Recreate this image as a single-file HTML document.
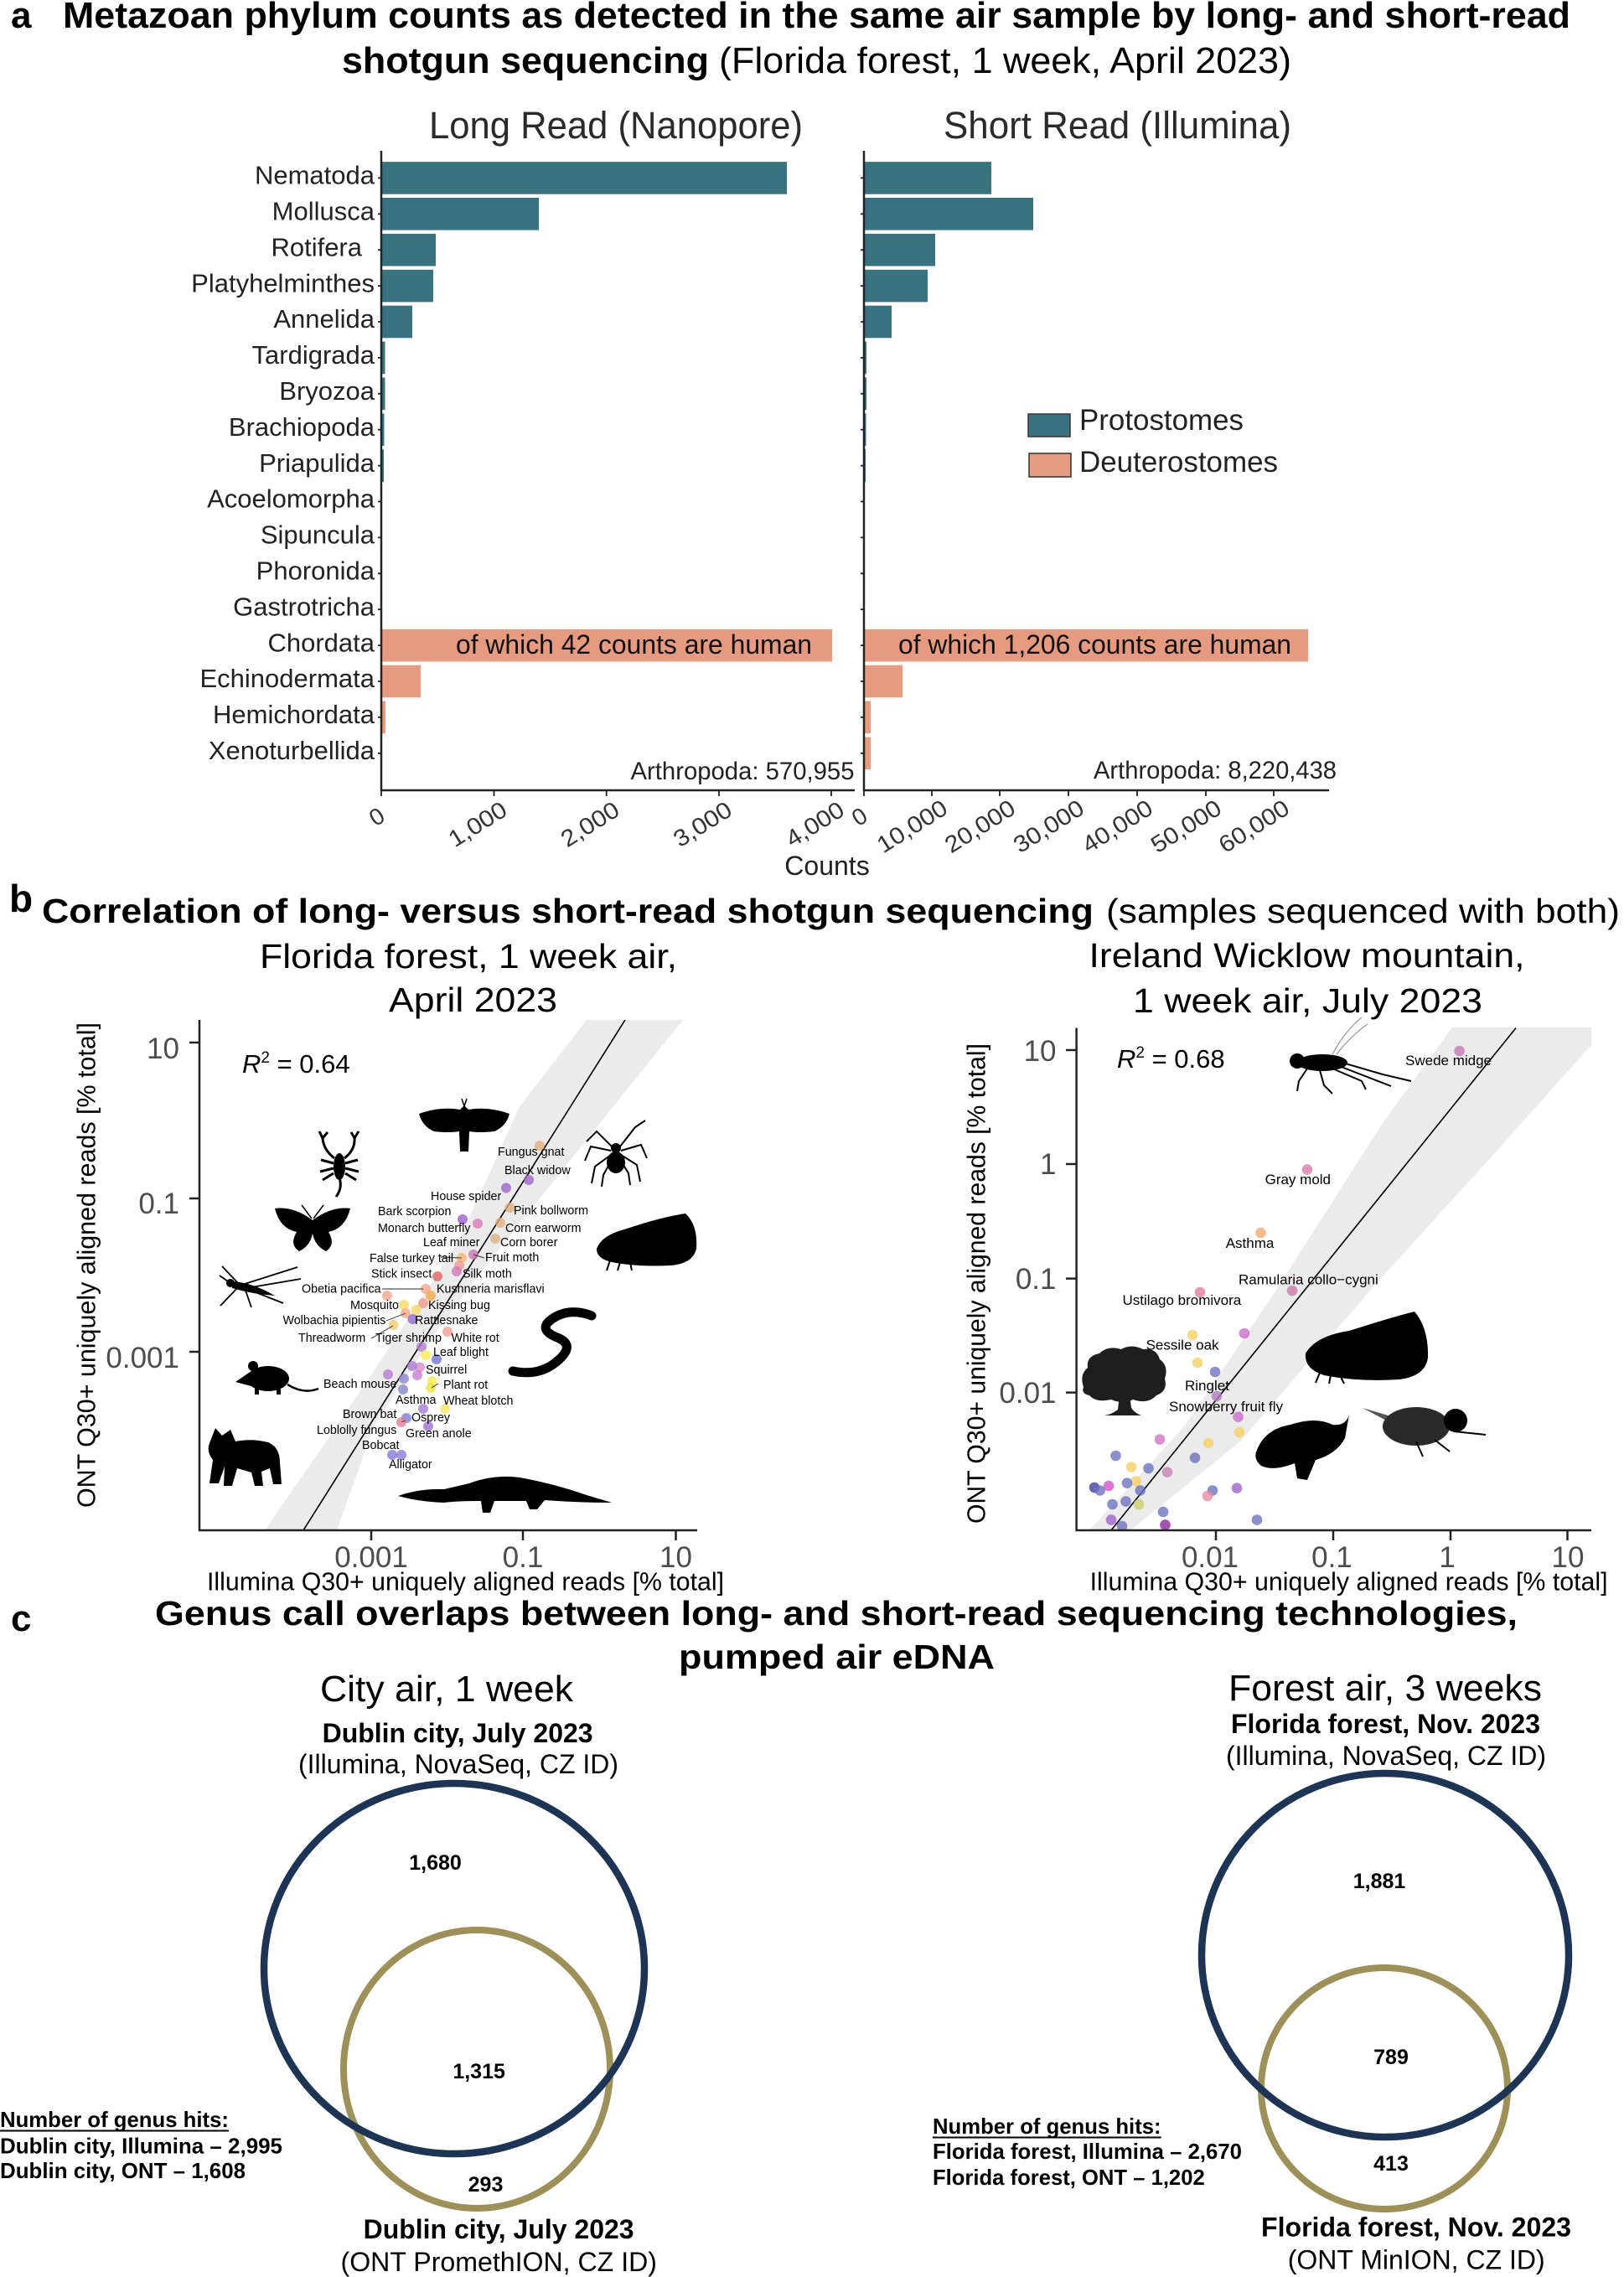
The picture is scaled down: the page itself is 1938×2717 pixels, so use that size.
<!DOCTYPE html>
<html><head><meta charset="utf-8"><style>
html,body{margin:0;padding:0;background:#fff;}
svg{display:block;font-family:"Liberation Sans",Arial,sans-serif;}
</style></head><body>
<svg width="1938" height="2717" viewBox="0 0 1938 2717" xmlns="http://www.w3.org/2000/svg">
<rect width="1938" height="2717" fill="#fff"/>
<defs>
<clipPath id="cl"><rect x="238" y="1217" width="594" height="609"/></clipPath>
<clipPath id="cr"><rect x="1285" y="1226" width="614" height="600"/></clipPath>
</defs>

<!-- ============ PANEL A ============ -->
<text x="13" y="33" font-weight="bold" font-size="44">a</text>
<text x="75" y="33" font-weight="bold" font-size="44" textLength="1799" lengthAdjust="spacingAndGlyphs">Metazoan phylum counts as detected in the same air sample by long- and short-read</text>
<text x="408" y="87" font-weight="bold" font-size="44" textLength="438" lengthAdjust="spacingAndGlyphs">shotgun sequencing</text>
<text x="858" y="87" font-size="44" textLength="683" lengthAdjust="spacingAndGlyphs">(Florida forest, 1 week, April 2023)</text>

<text x="512" y="165" font-size="45" fill="#2a2a2a" textLength="446" lengthAdjust="spacingAndGlyphs">Long Read (Nanopore)</text>
<text x="1126" y="165" font-size="45" fill="#2a2a2a" textLength="415" lengthAdjust="spacingAndGlyphs">Short Read (Illumina)</text>

<g font-size="31" fill="#222" text-anchor="end">
<text x="447" y="219.6">Nematoda</text>
<text x="447" y="262.5">Mollusca</text>
<text x="432" y="305.4">Rotifera</text>
<text x="447" y="348.3">Platyhelminthes</text>
<text x="447" y="391.2">Annelida</text>
<text x="447" y="434.1">Tardigrada</text>
<text x="447" y="477">Bryozoa</text>
<text x="447" y="519.9">Brachiopoda</text>
<text x="447" y="562.8">Priapulida</text>
<text x="447" y="605.7">Acoelomorpha</text>
<text x="447" y="648.6">Sipuncula</text>
<text x="447" y="691.5">Phoronida</text>
<text x="447" y="734.4">Gastrotricha</text>
<text x="447" y="777.3">Chordata</text>
<text x="447" y="820.2">Echinodermata</text>
<text x="447" y="863.1">Hemichordata</text>
<text x="447" y="906">Xenoturbellida</text>
</g>

<!-- left bars -->
<g fill="#38737f">
<rect x="455" y="193.1" width="484" height="38.6"/>
<rect x="455" y="236" width="188" height="38.6"/>
<rect x="455" y="278.9" width="65" height="38.6"/>
<rect x="455" y="321.8" width="62" height="38.6"/>
<rect x="455" y="364.7" width="37" height="38.6"/>
<rect x="455" y="407.6" width="4.5" height="38.6"/>
<rect x="455" y="450.5" width="4.5" height="38.6"/>
<rect x="455" y="493.4" width="3.5" height="38.6"/>
<rect x="455" y="536.3" width="3" height="38.6"/>
</g>
<g fill="#e69a80">
<rect x="455" y="750.8" width="538" height="38.6"/>
<rect x="455" y="793.7" width="47" height="38.6"/>
<rect x="455" y="836.6" width="5" height="38.6"/>
</g>
<!-- right bars -->
<g fill="#38737f">
<rect x="1031" y="193.1" width="152" height="38.6"/>
<rect x="1031" y="236" width="202" height="38.6"/>
<rect x="1031" y="278.9" width="85" height="38.6"/>
<rect x="1031" y="321.8" width="76" height="38.6"/>
<rect x="1031" y="364.7" width="33" height="38.6"/>
<rect x="1031" y="407.6" width="3" height="38.6"/>
<rect x="1031" y="450.5" width="3" height="38.6"/>
<rect x="1031" y="493.4" width="2.5" height="38.6"/>
<rect x="1031" y="536.3" width="2" height="38.6"/>
</g>
<g fill="#e69a80">
<rect x="1031" y="750.8" width="530" height="38.6"/>
<rect x="1031" y="793.7" width="46" height="38.6"/>
<rect x="1031" y="836.6" width="8" height="38.6"/>
<rect x="1031" y="879.5" width="8" height="38.6"/>
</g>

<text x="544" y="780" font-size="32" fill="#111" textLength="425" lengthAdjust="spacingAndGlyphs">of which 42 counts are human</text>
<text x="1072" y="780" font-size="32" fill="#111" textLength="469" lengthAdjust="spacingAndGlyphs">of which 1,206 counts are human</text>

<text x="752.5" y="930" font-size="29.4" fill="#222" textLength="267" lengthAdjust="spacingAndGlyphs">Arthropoda: 570,955</text>
<text x="1305" y="929" font-size="29.4" fill="#222" textLength="290" lengthAdjust="spacingAndGlyphs">Arthropoda: 8,220,438</text>

<!-- axes panel a -->
<g stroke="#222" stroke-width="2.5" fill="none">
<line x1="455" y1="180" x2="455" y2="944"/>
<line x1="454" y1="943" x2="1020" y2="943"/>
<line x1="1031" y1="180" x2="1031" y2="944"/>
<line x1="1030" y1="943" x2="1586" y2="943"/>
</g>
<g stroke="#222" stroke-width="1.8">
<path d="M451,212.4h4M451,255.3h4M451,298.2h4M451,341.1h4M451,384h4M451,426.9h4M451,469.8h4M451,512.7h4M451,555.6h4M451,598.5h4M451,641.4h4M451,684.3h4M451,727.2h4M451,770.1h4M451,813h4M451,855.9h4M451,898.8h4"/>
<path d="M1027,212.4h4M1027,255.3h4M1027,298.2h4M1027,341.1h4M1027,384h4M1027,426.9h4M1027,469.8h4M1027,512.7h4M1027,555.6h4M1027,598.5h4M1027,641.4h4M1027,684.3h4M1027,727.2h4M1027,770.1h4M1027,813h4M1027,855.9h4M1027,898.8h4"/>
<path d="M455,943v7M589.5,943v7M723.7,943v7M858,943v7M992,943v7"/>
<path d="M1031,943v7M1112,943v7M1193,943v7M1275,943v7M1357,943v7M1439,943v7M1520,943v7"/>
</g>
<g font-size="28" fill="#333">
<text transform="translate(458.5,980.3) rotate(-32)" x="-12.2">0</text>
<text transform="translate(593,980.3) rotate(-32)" x="-59.3" textLength="76" lengthAdjust="spacingAndGlyphs">1,000</text>
<text transform="translate(727.2,980.3) rotate(-32)" x="-59.3" textLength="76" lengthAdjust="spacingAndGlyphs">2,000</text>
<text transform="translate(861.5,980.3) rotate(-32)" x="-59.3" textLength="76" lengthAdjust="spacingAndGlyphs">3,000</text>
<text transform="translate(995.5,980.3) rotate(-32)" x="-59.3" textLength="76" lengthAdjust="spacingAndGlyphs">4,000</text>
<text transform="translate(1034.5,980.3) rotate(-32)" x="-12.2">0</text>
<text transform="translate(1115.5,980.3) rotate(-32)" x="-72.5" textLength="93" lengthAdjust="spacingAndGlyphs">10,000</text>
<text transform="translate(1196.5,980.3) rotate(-32)" x="-72.5" textLength="93" lengthAdjust="spacingAndGlyphs">20,000</text>
<text transform="translate(1278.5,980.3) rotate(-32)" x="-72.5" textLength="93" lengthAdjust="spacingAndGlyphs">30,000</text>
<text transform="translate(1360.5,980.3) rotate(-32)" x="-72.5" textLength="93" lengthAdjust="spacingAndGlyphs">40,000</text>
<text transform="translate(1442.5,980.3) rotate(-32)" x="-72.5" textLength="93" lengthAdjust="spacingAndGlyphs">50,000</text>
<text transform="translate(1523.5,980.3) rotate(-32)" x="-72.5" textLength="93" lengthAdjust="spacingAndGlyphs">60,000</text>
</g>
<text x="987" y="1044" font-size="32" fill="#222" text-anchor="middle">Counts</text>

<!-- legend -->
<rect x="1227" y="494" width="50" height="27" fill="#38737f" stroke="#333" stroke-width="1.5"/>
<rect x="1228" y="541" width="50" height="28" fill="#e69a80" stroke="#333" stroke-width="1.5"/>
<text x="1288" y="513" font-size="35" fill="#222" textLength="196" lengthAdjust="spacingAndGlyphs">Protostomes</text>
<text x="1288" y="563" font-size="35" fill="#222" textLength="237" lengthAdjust="spacingAndGlyphs">Deuterostomes</text>

<!-- ============ PANEL B ============ -->
<text x="11" y="1088" font-weight="bold" font-size="46">b</text>
<text x="50" y="1101" font-weight="bold" font-size="41" textLength="1255" lengthAdjust="spacingAndGlyphs">Correlation of long- versus short-read shotgun sequencing</text>
<text x="1320" y="1101" font-size="41" textLength="613" lengthAdjust="spacingAndGlyphs">(samples sequenced with both)</text>

<text x="310" y="1155" font-size="41" textLength="498" lengthAdjust="spacingAndGlyphs">Florida forest, 1 week air,</text>
<text x="464" y="1207" font-size="41" textLength="201" lengthAdjust="spacingAndGlyphs">April 2023</text>
<text x="1299.5" y="1154" font-size="41" textLength="520" lengthAdjust="spacingAndGlyphs">Ireland Wicklow mountain,</text>
<text x="1352" y="1208" font-size="41" textLength="417" lengthAdjust="spacingAndGlyphs">1 week air, July 2023</text>

<!-- LEFT SCATTER -->
<g clip-path="url(#cl)">
<path d="M700,1217 L620,1320 L548,1480 L470,1600 L403,1700 L316,1826 L402,1826 L447,1700 L520,1590 L588,1500 L700,1360 L815,1217 Z" fill="#ebebeb"/>
<line x1="362" y1="1826" x2="746" y2="1217" stroke="#000" stroke-width="1.6"/>
</g>

<!-- left silhouettes -->
<g fill="#000">
<path d="M554,1320 L551,1311 M554,1320 L557,1311" stroke="#000" stroke-width="1.5" fill="none"/>
<path d="M500,1329 Q525,1320 549,1324 L554,1319 L559,1324 Q583,1320 608,1329 Q604,1344 590,1350 Q572,1352 560,1350 L559,1374 L549,1374 L548,1350 Q536,1352 518,1350 Q504,1344 500,1329 Z"/>
<ellipse cx="405" cy="1392" rx="7" ry="16"/>
<path d="M399,1382 Q386,1372 385,1358 M411,1382 Q424,1372 423,1358 M405,1405 Q409,1418 401,1428 M398,1388 L383,1384 M398,1394 L382,1398 M398,1400 L385,1408 M412,1388 L427,1384 M412,1394 L428,1398 M412,1400 L425,1408" stroke="#000" stroke-width="3" fill="none"/>
<path d="M381,1350 L385,1358 L391,1351 M419,1351 L423,1358 L428,1350" stroke="#000" stroke-width="3" fill="none"/>
<ellipse cx="735" cy="1387" rx="11" ry="13"/>
<circle cx="735" cy="1370" r="6"/>
<path d="M730,1368 L712,1350 L700,1362 M729,1373 L705,1368 L698,1385 M729,1378 L710,1392 L706,1412 M731,1382 L720,1402 L718,1416 M740,1368 L758,1345 L770,1337 M741,1373 L765,1366 L772,1382 M741,1378 L760,1390 L764,1410 M739,1382 L750,1400 L752,1414" stroke="#000" stroke-width="2" fill="none"/>
<path d="M373,1456 Q350,1439 328,1442 Q334,1466 354,1470 Q345,1485 357,1493 Q370,1487 373,1472 Q376,1487 389,1493 Q401,1485 392,1470 Q412,1466 418,1442 Q396,1439 373,1456 Z"/>
<path d="M372,1454 L360,1438 M374,1454 L386,1438" stroke="#000" stroke-width="1.5" fill="none"/>
<path d="M712,1490 Q718,1474 745,1467 Q790,1452 818,1448 Q833,1462 831,1490 Q827,1508 800,1510 Q760,1512 730,1506 Q712,1502 712,1490 Z"/>
<path d="M728,1504 L724,1516 M740,1506 L737,1516 M752,1507 L754,1516" stroke="#000" stroke-width="2" fill="none"/>
<path d="M277,1529 Q300,1530 328,1546 Q300,1544 277,1537 Z"/>
<circle cx="275" cy="1531" r="5"/>
<path d="M262,1522 L272,1529 M285,1535 L263,1558 M292,1537 L300,1560 M300,1540 L338,1555 M292,1532 L355,1512 M300,1536 L359,1526 M284,1531 L265,1511" stroke="#000" stroke-width="1.8" fill="none"/>
<path d="M612,1636 Q640,1642 660,1628 Q690,1606 665,1596 Q640,1586 660,1573 Q680,1560 706,1570" stroke="#000" stroke-width="11" fill="none" stroke-linecap="round"/>
<ellipse cx="320" cy="1645" rx="25" ry="15"/>
<path d="M300,1636 L281,1649 L300,1654 Z"/>
<circle cx="302" cy="1630" r="6"/>
<path d="M343,1652 Q362,1664 380,1657" stroke="#000" stroke-width="2.5" fill="none"/>
<rect x="304" y="1655" width="5" height="9"/><rect x="330" y="1655" width="5" height="9"/>
<path d="M250,1722 L257,1704 L265,1713 L275,1706 L281,1720 Q300,1716 320,1721 Q334,1727 334,1745 L336,1771 L326,1771 L322,1752 L312,1756 L314,1773 L304,1773 L300,1757 L283,1752 L277,1773 L267,1773 L268,1750 L261,1770 L250,1770 L254,1742 Q246,1732 250,1722 Z"/>
<path d="M475,1785 Q500,1776 530,1777 L560,1770 Q590,1759 620,1763 Q660,1770 700,1784 L730,1793 Q690,1793 650,1790 L641,1801 L632,1801 L628,1791 L590,1791 L585,1805 L576,1805 L574,1791 Q545,1791 530,1793 Q500,1792 475,1785 Z"/>
</g>

<!-- left points -->
<g fill-opacity="0.78">
<circle cx="644" cy="1367" r="6" fill="#e6ad78"/>
<circle cx="631" cy="1408" r="6" fill="#9b63c8"/>
<circle cx="604" cy="1417.5" r="6" fill="#9b63c8"/>
<circle cx="608.5" cy="1441" r="6" fill="#e0ad7a"/>
<circle cx="552" cy="1455" r="6" fill="#9b59d0"/>
<circle cx="597" cy="1459" r="6" fill="#e0ad7a"/>
<circle cx="570" cy="1460" r="6" fill="#d77ab9"/>
<circle cx="591" cy="1478" r="6" fill="#dcb084"/>
<circle cx="551" cy="1501" r="6" fill="#f3b36b"/>
<circle cx="565" cy="1497" r="6" fill="#c776b0"/>
<circle cx="548" cy="1510" r="6" fill="#f09a8a"/>
<circle cx="545" cy="1517" r="6" fill="#cc77b8"/>
<circle cx="522" cy="1523" r="6" fill="#e0605a"/>
<circle cx="508" cy="1538" r="6" fill="#f2a28a"/>
<circle cx="514" cy="1546" r="6" fill="#f0a840"/>
<circle cx="462" cy="1546" r="6" fill="#f2a28a"/>
<circle cx="482" cy="1557" r="6" fill="#f7d861"/>
<circle cx="505" cy="1555" r="6" fill="#f0988a"/>
<circle cx="496.5" cy="1563" r="6" fill="#f7d861"/>
<circle cx="484" cy="1567" r="6" fill="#f5a88a"/>
<circle cx="492.5" cy="1574" r="6" fill="#8e6ad0"/>
<circle cx="469.5" cy="1581" r="6" fill="#f5c96a"/>
<circle cx="534" cy="1589" r="6" fill="#f0a08e"/>
<circle cx="503" cy="1607" r="6" fill="#b07bd0"/>
<circle cx="521" cy="1622" r="6" fill="#6c72d0"/>
<circle cx="508" cy="1617" r="6" fill="#f7ea50"/>
<circle cx="501" cy="1631.5" r="6" fill="#d48acb"/>
<circle cx="492" cy="1630" r="6" fill="#a87ad0"/>
<circle cx="498" cy="1641" r="6" fill="#c57bd0"/>
<circle cx="482" cy="1645" r="6" fill="#8a80d0"/>
<circle cx="463" cy="1640" r="6" fill="#b87ad0"/>
<circle cx="481" cy="1658" r="6" fill="#7d80c8"/>
<circle cx="515.5" cy="1648" r="6" fill="#f7ea50"/>
<circle cx="514" cy="1656" r="6" fill="#f0e040"/>
<circle cx="531" cy="1681" r="6" fill="#f5e860"/>
<circle cx="505" cy="1681" r="6" fill="#a279d6"/>
<circle cx="485" cy="1692" r="6" fill="#7a7cd0"/>
<circle cx="479" cy="1697" r="6" fill="#e27b90"/>
<circle cx="511" cy="1701.7" r="6" fill="#9b6bd0"/>
<circle cx="468" cy="1736" r="6" fill="#7a7ad8"/>
<circle cx="479" cy="1736" r="6" fill="#8a7ad8"/>
</g>
<g stroke="#555" stroke-width="1.2" fill="none">
<path d="M456,1538 L505,1538 M443,1597 L469,1582 M461,1576 L484,1567 M484,1695 L479,1697 M523,1651 L515,1656 M526,1500 L551,1501 M578,1501 L565,1497"/>
</g>
<g font-size="14.3" fill="#000">
<text x="594" y="1379">Fungus gnat</text>
<text x="602" y="1401">Black widow</text>
<text x="514" y="1432">House spider</text>
<text x="613" y="1449">Pink bollworm</text>
<text x="451" y="1450">Bark scorpion</text>
<text x="603" y="1470">Corn earworm</text>
<text x="451" y="1470">Monarch butterfly</text>
<text x="597" y="1487">Corn borer</text>
<text x="505" y="1487">Leaf miner</text>
<text x="579" y="1505">Fruit moth</text>
<text x="441" y="1506">False turkey tail</text>
<text x="552" y="1524.5">Silk moth</text>
<text x="443" y="1524.5">Stick insect</text>
<text x="360" y="1542.6">Obetia pacifica</text>
<text x="521" y="1542.6">Kushneria marisflavi</text>
<text x="418" y="1562">Mosquito</text>
<text x="511" y="1562">Kissing bug</text>
<text x="337.5" y="1580">Wolbachia pipientis</text>
<text x="495" y="1580">Rattlesnake</text>
<text x="356" y="1601">Threadworm</text>
<text x="448" y="1601">Tiger shrimp</text>
<text x="538.5" y="1601">White rot</text>
<text x="517" y="1618">Leaf blight</text>
<text x="508" y="1639">Squirrel</text>
<text x="386" y="1656">Beach mouse</text>
<text x="529" y="1657">Plant rot</text>
<text x="472" y="1675">Asthma</text>
<text x="529" y="1676">Wheat blotch</text>
<text x="409" y="1692">Brown bat</text>
<text x="491" y="1696">Osprey</text>
<text x="378" y="1711">Loblolly fungus</text>
<text x="484" y="1715">Green anole</text>
<text x="432" y="1729">Bobcat</text>
<text x="464" y="1752">Alligator</text>
</g>

<text x="289" y="1280" font-size="31"><tspan font-style="italic">R</tspan><tspan font-size="19" dy="-12">2</tspan><tspan dy="12"> = 0.64</tspan></text>

<!-- left axes -->
<g stroke="#222" stroke-width="2.5" fill="none">
<line x1="238" y1="1217" x2="238" y2="1827"/>
<line x1="237" y1="1826" x2="832" y2="1826"/>
<path d="M226,1244h12M226,1430h12M226,1613h12M443,1826v12M624,1826v12M806.5,1826v12"/>
</g>
<g font-size="35" fill="#4d4d4d">
<text x="214" y="1263" text-anchor="end">10</text>
<text x="214" y="1448" text-anchor="end">0.1</text>
<text x="214" y="1632" text-anchor="end">0.001</text>
<text x="443" y="1870" text-anchor="middle">0.001</text>
<text x="624" y="1870" text-anchor="middle">0.1</text>
<text x="806.5" y="1870" text-anchor="middle">10</text>
</g>
<text x="247" y="1897.5" font-size="30.5" textLength="617" lengthAdjust="spacingAndGlyphs">Illumina Q30+ uniquely aligned reads [% total]</text>
<text transform="translate(113.7,1509.5) rotate(-90)" text-anchor="middle" font-size="30.5" textLength="579" lengthAdjust="spacingAndGlyphs">ONT Q30+ uniquely aligned reads [% total]</text>

<!-- RIGHT SCATTER -->
<g clip-path="url(#cr)">
<path d="M1733,1226 L1650,1340 L1527,1533 L1415,1700 L1300,1826 L1349,1826 L1480,1720 L1641,1533 L1780,1380 L1899,1247 L1899,1226 Z" fill="#ebebeb"/>
<line x1="1326" y1="1826" x2="1809" y2="1226.6" stroke="#000" stroke-width="1.6"/>
</g>

<!-- right silhouettes -->
<g fill="#000">
<path d="M1590,1258 Q1605,1230 1625,1214 M1595,1258 Q1612,1236 1632,1222" stroke="#999" stroke-width="1.2" fill="none"/>
<ellipse cx="1578" cy="1268" rx="30" ry="10"/>
<circle cx="1548" cy="1266" r="9"/>
<path d="M1560,1275 L1550,1290 L1548,1302 M1575,1277 L1580,1295 L1590,1305 M1590,1275 L1625,1290 L1630,1300 M1602,1268 L1650,1282 L1684,1290 M1598,1272 L1660,1296" stroke="#000" stroke-width="2" fill="none"/>
<path d="M1558,1615 Q1570,1594 1610,1588 Q1660,1572 1688,1565 Q1705,1585 1704,1620 Q1701,1642 1670,1646 Q1620,1649 1580,1641 Q1556,1633 1558,1615 Z"/>
<path d="M1575,1638 L1570,1650 M1588,1641 L1586,1651 M1600,1643 L1604,1651" stroke="#000" stroke-width="2" fill="none"/>
<!-- tree -->
<path d="M1293,1655 Q1288,1640 1298,1632 Q1296,1618 1312,1615 Q1322,1605 1338,1610 Q1350,1603 1364,1610 Q1380,1608 1384,1622 Q1395,1630 1390,1645 Q1394,1660 1380,1665 Q1370,1676 1352,1670 Q1340,1676 1326,1670 Q1308,1674 1300,1665 Q1290,1663 1293,1655 Z" fill="#1e1e1e"/>
<path d="M1336,1664 L1334,1682 Q1326,1688 1318,1689 L1362,1689 Q1354,1686 1350,1680 L1348,1664 Z" fill="#1e1e1e"/>
<path d="M1500,1730 Q1510,1705 1540,1700 Q1570,1690 1590,1700 Q1606,1702 1610,1688 L1605,1716 Q1595,1735 1570,1742 L1560,1766 L1548,1764 L1545,1746 Q1520,1756 1505,1749 Q1495,1741 1500,1730 Z"/>
<path d="M1660,1690 L1626,1680 L1660,1698 Z" fill="#555"/>
<ellipse cx="1690" cy="1702" rx="40" ry="23" fill="#2a2a2a"/>
<circle cx="1737" cy="1695" r="14"/>
<path d="M1690,1720 L1698,1738 M1712,1718 L1730,1732 M1735,1708 L1773,1712" stroke="#000" stroke-width="2" fill="none"/>
</g>

<!-- right points -->
<g fill-opacity="0.78">
<circle cx="1741.6" cy="1254" r="6.3" fill="#c07ab8"/>
<circle cx="1560" cy="1395.6" r="6.3" fill="#d57aa8"/>
<circle cx="1504.5" cy="1471" r="6.3" fill="#f5a86a"/>
<circle cx="1542" cy="1540" r="6.3" fill="#c87aa8"/>
<circle cx="1432" cy="1542" r="6.3" fill="#e07a9a"/>
<circle cx="1485" cy="1591" r="6.3" fill="#c86ac8"/>
<circle cx="1423" cy="1593" r="6.3" fill="#f5d060"/>
<circle cx="1429" cy="1626" r="6.3" fill="#f5d060"/>
<circle cx="1450" cy="1637" r="6.3" fill="#6a6fc0"/>
<circle cx="1452" cy="1666" r="6.3" fill="#b07ac0"/>
<circle cx="1477.6" cy="1690.7" r="6.3" fill="#c86ac8"/>
<circle cx="1479" cy="1709" r="6.3" fill="#f5d060"/>
<circle cx="1442" cy="1722" r="6.3" fill="#f5d060"/>
<circle cx="1384" cy="1717.6" r="6.3" fill="#d070c0"/>
<circle cx="1426" cy="1739.5" r="6.3" fill="#6a6fc0"/>
<circle cx="1331.5" cy="1737" r="6.3" fill="#6a6fc0"/>
<circle cx="1350" cy="1750.5" r="6.3" fill="#f5d060"/>
<circle cx="1370.5" cy="1752" r="6.3" fill="#6a6fc0"/>
<circle cx="1393" cy="1756.5" r="6.3" fill="#c880b0"/>
<circle cx="1355.6" cy="1767.5" r="6.3" fill="#f5d060"/>
<circle cx="1345" cy="1769.7" r="6.3" fill="#6a6fc0"/>
<circle cx="1360.7" cy="1778.5" r="6.3" fill="#6a6fc0"/>
<circle cx="1323" cy="1773" r="6.3" fill="#d050c8"/>
<circle cx="1306" cy="1775" r="6.3" fill="#3a3aa0"/>
<circle cx="1312.6" cy="1778.5" r="6.3" fill="#6a6fc0"/>
<circle cx="1447" cy="1778.5" r="6.3" fill="#6a6fc0"/>
<circle cx="1441" cy="1785" r="6.3" fill="#e888a0"/>
<circle cx="1476" cy="1775.7" r="6.3" fill="#9a60c8"/>
<circle cx="1327.5" cy="1795" r="6.3" fill="#6a6fc0"/>
<circle cx="1343.5" cy="1791.6" r="6.3" fill="#6a6fc0"/>
<circle cx="1359" cy="1795" r="6.3" fill="#c8d060"/>
<circle cx="1388" cy="1804" r="6.3" fill="#6a6fc0"/>
<circle cx="1500" cy="1813.6" r="6.3" fill="#6a6fc0"/>
<circle cx="1326" cy="1813.6" r="6.3" fill="#9a60c8"/>
<circle cx="1390.5" cy="1819.6" r="6.3" fill="#8a20a0"/>
<circle cx="1339" cy="1821" r="6.3" fill="#6a6fc0"/>
</g>
<g font-size="17" fill="#000">
<text x="1677" y="1271">Swede midge</text>
<text x="1509.6" y="1413">Gray mold</text>
<text x="1462.7" y="1489">Asthma</text>
<text x="1478" y="1532.7">Ramularia collo−cygni</text>
<text x="1339.5" y="1557">Ustilago bromivora</text>
<text x="1367.6" y="1610.6">Sessile oak</text>
<text x="1414" y="1659">Ringlet</text>
<text x="1395" y="1684">Snowberry fruit fly</text>
</g>
<text x="1333" y="1274" font-size="31"><tspan font-style="italic">R</tspan><tspan font-size="19" dy="-12">2</tspan><tspan dy="12"> = 0.68</tspan></text>

<!-- right axes -->
<g stroke="#222" stroke-width="2.5" fill="none">
<line x1="1284.6" y1="1226.6" x2="1284.6" y2="1827"/>
<line x1="1283.5" y1="1826" x2="1899" y2="1826"/>
<path d="M1272,1253h12.6M1272,1389h12.6M1272,1525.6h12.6M1272,1661.6h12.6M1451,1826v12M1591,1826v12M1731,1826v12M1870.5,1826v12"/>
</g>
<g font-size="35" fill="#4d4d4d">
<text x="1260.5" y="1266" text-anchor="end">10</text>
<text x="1260.5" y="1401" text-anchor="end">1</text>
<text x="1260.5" y="1538" text-anchor="end">0.1</text>
<text x="1260.5" y="1674" text-anchor="end">0.01</text>
<text x="1444" y="1870" text-anchor="middle">0.01</text>
<text x="1589.5" y="1870" text-anchor="middle">0.1</text>
<text x="1727" y="1870" text-anchor="middle">1</text>
<text x="1871" y="1870" text-anchor="middle">10</text>
</g>
<text x="1300.6" y="1897.5" font-size="30.5" textLength="618" lengthAdjust="spacingAndGlyphs">Illumina Q30+ uniquely aligned reads [% total]</text>
<text transform="translate(1175.7,1531.5) rotate(-90)" text-anchor="middle" font-size="30.5" textLength="573" lengthAdjust="spacingAndGlyphs">ONT Q30+ uniquely aligned reads [% total]</text>

<!-- ============ PANEL C ============ -->
<text x="13" y="1946" font-weight="bold" font-size="44">c</text>
<text x="185" y="1939" font-weight="bold" font-size="41" textLength="1626" lengthAdjust="spacingAndGlyphs">Genus call overlaps between long- and short-read sequencing technologies,</text>
<text x="810" y="1991" font-weight="bold" font-size="41" textLength="377" lengthAdjust="spacingAndGlyphs">pumped air eDNA</text>

<!-- left venn -->
<text x="382" y="2030" font-size="44" textLength="302" lengthAdjust="spacingAndGlyphs">City air, 1 week</text>
<text x="384.6" y="2079" font-weight="bold" font-size="32" textLength="323" lengthAdjust="spacingAndGlyphs">Dublin city, July 2023</text>
<text x="356" y="2116" font-size="32" textLength="382" lengthAdjust="spacingAndGlyphs">(Illumina, NovaSeq, CZ ID)</text>
<ellipse cx="569" cy="2469" rx="159" ry="166" fill="none" stroke="#9d9059" stroke-width="8"/>
<ellipse cx="542" cy="2349" rx="227" ry="221" fill="none" stroke="#1d3455" stroke-width="8.5"/>
<g font-weight="bold" font-size="25" text-anchor="middle">
<text x="519.5" y="2231">1,680</text>
<text x="571.6" y="2480">1,315</text>
<text x="579.5" y="2615">293</text>
</g>
<g font-weight="bold" font-size="26">
<text x="0" y="2538" textLength="273" lengthAdjust="spacingAndGlyphs">Number of genus hits:</text>
<text x="0" y="2569.6" textLength="337" lengthAdjust="spacingAndGlyphs">Dublin city, Illumina – 2,995</text>
<text x="0" y="2599" textLength="293" lengthAdjust="spacingAndGlyphs">Dublin city, ONT – 1,608</text>
</g>
<line x1="0" y1="2542.5" x2="273" y2="2542.5" stroke="#000" stroke-width="2"/>
<text x="433.6" y="2671" font-weight="bold" font-size="32" textLength="323" lengthAdjust="spacingAndGlyphs">Dublin city, July 2023</text>
<text x="406.5" y="2710" font-size="32" textLength="377.5" lengthAdjust="spacingAndGlyphs">(ONT PromethION, CZ ID)</text>

<!-- right venn -->
<text x="1466" y="2029" font-size="44" textLength="374" lengthAdjust="spacingAndGlyphs">Forest air, 3 weeks</text>
<text x="1469" y="2068" font-weight="bold" font-size="32" textLength="369" lengthAdjust="spacingAndGlyphs">Florida forest, Nov. 2023</text>
<text x="1463" y="2106" font-size="32" textLength="382" lengthAdjust="spacingAndGlyphs">(Illumina, NovaSeq, CZ ID)</text>
<ellipse cx="1652" cy="2492" rx="147" ry="144" fill="none" stroke="#9d9059" stroke-width="8"/>
<ellipse cx="1653" cy="2333" rx="219" ry="217" fill="none" stroke="#1d3455" stroke-width="8.5"/>
<g font-weight="bold" font-size="25" text-anchor="middle">
<text x="1646" y="2253">1,881</text>
<text x="1660" y="2463">789</text>
<text x="1660" y="2590">413</text>
</g>
<g font-weight="bold" font-size="26">
<text x="1113" y="2546" textLength="272.6" lengthAdjust="spacingAndGlyphs">Number of genus hits:</text>
<text x="1113" y="2576" textLength="369" lengthAdjust="spacingAndGlyphs">Florida forest, Illumina – 2,670</text>
<text x="1113" y="2607" textLength="324.7" lengthAdjust="spacingAndGlyphs">Florida forest, ONT – 1,202</text>
</g>
<line x1="1113" y1="2550.5" x2="1385.6" y2="2550.5" stroke="#000" stroke-width="2"/>
<text x="1505" y="2668.6" font-weight="bold" font-size="32" textLength="370" lengthAdjust="spacingAndGlyphs">Florida forest, Nov. 2023</text>
<text x="1536.7" y="2707.7" font-size="32" textLength="307" lengthAdjust="spacingAndGlyphs">(ONT MinION, CZ ID)</text>
</svg>
</body></html>
